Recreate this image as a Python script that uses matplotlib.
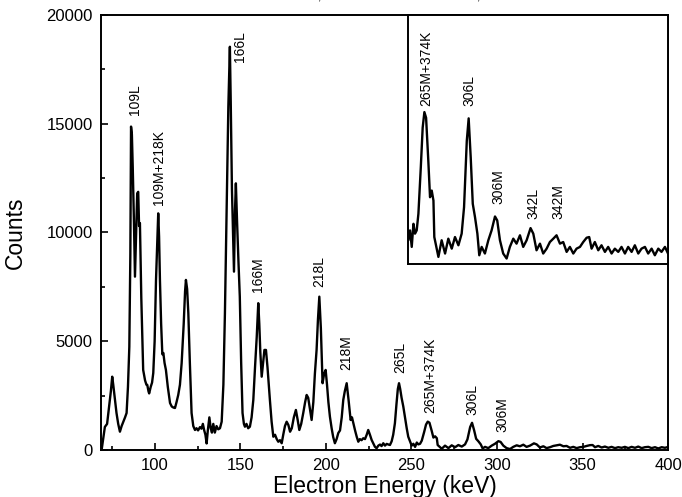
import matplotlib

matplotlib.use("Agg")
import matplotlib.pyplot as plt  # noqa: E402
from matplotlib.ticker import MultipleLocator  # noqa: E402

plt.rcParams.update(
    {
        "font.family": ["Liberation Sans", "DejaVu Sans"],
        "mathtext.fontset": "custom",
        "mathtext.rm": "Liberation Sans",
        "mathtext.it": "Liberation Sans:italic",
        "axes.linewidth": 1.4,
    }
)

# electron energy (keV) and counts
energy = [
    68.8, 69.5, 70.7, 72.0, 73.2, 74.2, 75.0, 75.6, 76.6, 77.5, 78.5, 79.5,
    80.5, 81.5, 82.5, 83.4, 84.2, 85.0, 85.6, 86.0, 86.5, 87.0, 87.7, 88.3,
    89.0, 89.6, 90.2, 90.7, 91.2, 92.0, 93.1, 94.2, 95.0, 95.5, 96.2, 96.6,
    97.5, 98.3, 99.0, 99.8, 100.6, 101.3, 101.9, 102.4, 102.9, 103.6, 104.3,
    104.9, 105.6, 106.4, 107.5, 108.8, 109.8, 110.8, 111.7, 112.6, 113.6,
    114.6, 115.6, 116.8, 117.6, 118.1, 118.8, 119.5, 120.4, 121.4, 122.4,
    123.4, 124.3, 125.2, 126.3, 127.2, 128.0, 128.8, 129.5, 130.2, 130.9,
    131.8, 132.6, 133.3, 134.1, 135.0, 136.0, 137.0, 138.0, 139.0, 140.0,
    140.9, 141.9, 142.9, 143.5, 143.8, 144.3, 145.0, 145.8, 146.2, 146.8,
    147.3, 148.0, 148.8, 149.6, 150.4, 151.2, 152.0, 152.6, 153.5, 154.5,
    155.5, 156.5, 157.5, 158.5, 159.5, 160.4, 161.0, 161.6, 162.4, 163.2,
    164.0, 164.9, 165.8, 167.2, 168.2, 169.2, 170.2, 171.2, 172.1, 173.1,
    174.1, 175.0, 176.0, 177.0, 178.0, 179.0, 180.0, 181.2, 182.4, 183.4,
    184.4, 185.5, 186.7, 187.8, 188.7, 189.6, 190.6, 191.6, 192.6, 193.5,
    194.5, 195.3, 196.1, 197.0, 198.0, 198.9, 199.8, 200.6, 201.4, 202.3,
    203.3, 204.2, 205.2, 206.2, 207.2, 208.2, 209.2, 210.1, 211.0, 212.1,
    213.2, 214.4, 215.2, 216.0, 217.0, 218.0, 218.9, 219.8, 220.8, 221.8,
    222.8, 223.8, 224.7, 225.7, 226.7, 227.7, 228.6, 229.6, 230.6, 231.6,
    232.5, 233.5, 234.5, 235.5, 236.5, 237.4, 238.4, 239.3, 240.3, 241.2,
    242.0, 242.7, 243.4, 244.2, 245.2, 246.2, 247.2, 248.1,
    250.1, 251.1, 252.1, 253.1, 254.0, 255.0, 256.0, 257.4, 258.5, 259.5,
    260.5, 261.8, 262.8, 263.8, 264.8, 265.3, 266.7, 267.7, 269.6, 271.6,
    273.5, 275.5, 277.4, 279.4, 281.3, 282.7, 284.3, 285.4, 286.6, 287.8,
    289.1, 290.5, 291.6, 293.0, 294.9, 296.9, 298.8, 300.8, 302.1, 303.7,
    305.6, 307.6, 309.5, 311.5, 313.4, 315.4, 317.3, 319.3, 321.6, 323.2,
    325.1, 327.1, 329.0, 331.0, 332.9, 334.9, 336.8, 338.8, 340.7, 342.7,
    344.6, 346.6, 348.5, 350.5, 352.4, 354.4, 355.9, 357.3, 359.2, 361.2,
    363.1, 365.1, 367.0, 369.0, 370.9, 372.9, 374.8, 376.8, 378.7, 380.7,
    382.6, 384.6, 386.5, 388.5, 390.4, 392.4, 394.3, 396.3, 398.2, 400.2,
    402.0,
]
counts = [
    0, 400, 1060, 1200, 2000, 2700, 3370, 3000, 2300, 1700, 1200, 840,
    1100, 1300, 1500, 1700, 2900, 4750, 9000, 14870, 14500, 13000, 10500, 7970,
    10000, 11800, 11870, 10300, 10430, 7000, 3680, 3200, 3000, 2990, 2700, 2600,
    2900, 3100, 3540, 5000, 7820, 9500, 10880, 9800, 7820, 5800, 4400,
    4460, 4000, 3680, 2900, 2160, 2000, 1950, 1930, 2200, 2530,
    3000, 4000, 5800, 7300, 7820, 7400, 6290, 4000, 1700, 1100,
    920, 1000, 900, 1050, 980, 1200, 900, 700, 300, 900,
    1500, 1000, 800, 1200, 800, 1100, 950, 1000, 1300, 3000,
    6290, 11000, 15790, 17500, 18540, 16000, 12000, 9500, 8200, 11000,
    12260, 10500, 8700, 7050, 4000, 1700, 1200, 1070, 1200, 1000,
    1070, 1500, 2300, 3800, 5200, 6750, 5800, 4500, 3370, 4000,
    4600, 4600, 3800, 2300, 1300, 610, 700, 500, 380, 450,
    310, 700, 1100, 1300, 1150, 840, 1000, 1500, 1840, 1400,
    920, 1200, 1700, 2200, 2530, 2400, 1900, 1380, 2200, 3500,
    4600, 6000, 7050, 5600, 3070, 3500, 3680, 3000, 2200, 1530,
    1000, 600, 310, 500, 780, 900, 1500, 2300, 2700, 3070,
    2300, 1380, 1500, 1230, 900, 600, 380, 500, 450, 540,
    500, 700, 920, 700, 460, 300, 150, 80, 200, 250,
    180, 310, 200, 280, 250, 230, 400, 700, 1230, 2100,
    2800, 3070, 2800, 2400, 2000, 1500, 1000, 610,
    200, 285, 143, 342, 257, 285, 428, 827, 1170, 1304,
    1255, 884, 571, 628, 542, 228, 128, 57, 200, 86,
    214, 128, 228, 157, 257, 485, 1056, 1250, 913, 514,
    400, 257, 71, 143, 86, 200, 285, 405, 371, 200,
    86, 43, 143, 214, 171, 243, 143, 200, 305, 257,
    114, 171, 86, 128, 185, 214, 243, 171, 185, 100,
    143, 86, 128, 143, 185, 222, 228, 128, 185, 114,
    157, 100, 143, 86, 128, 100, 143, 86, 143, 100,
    157, 86, 128, 143, 86, 128, 71, 128, 100, 143,
    86,
]

main_labels = ["109L", "109M+218K", "166L", "166M", "218L", "218M",
               "265L", "265M+374K", "306L", "306M"]
main_label_x = [88.3, 102.5, 149.7, 160.4, 196.1, 212.1, 243.3, 260.8, 285.9, 302.9]
main_label_y = [15400, 11260, 17840, 7270, 7500, 3680, 3540, 1700, 1610, 830]

inset_labels = ["265M+374K", "306L", "306M", "342L", "342M"]
inset_label_x = [260.8, 286.1, 302.6, 323.0, 337.7]
inset_label_y = [1355, 1355, 516, 387, 387]

fig = plt.figure(figsize=(6.82, 4.97), dpi=100)
ax = fig.add_axes([0.148, 0.0946, 0.8315, 0.8752])
ax.plot(energy, counts, color="black", lw=1.7)
ax.set_xlim(68.4, 400)
ax.set_ylim(0, 20000)
ax.xaxis.set_major_locator(MultipleLocator(50))
ax.xaxis.set_minor_locator(MultipleLocator(25))
ax.yaxis.set_major_locator(MultipleLocator(5000))
ax.yaxis.set_minor_locator(MultipleLocator(2500))
ax.tick_params(which="both", direction="in", width=1.2, labelsize=12)
ax.tick_params(which="major", length=5, pad=6)
ax.tick_params(which="minor", length=3)
ax.set_xlabel("Electron Energy (keV)", fontsize=16.5, labelpad=1)
ax.set_ylabel("Counts", fontsize=16.5, labelpad=14)
for t, x, y in zip(main_labels, main_label_x, main_label_y):
    ax.text(x, y, t, rotation=90, ha="center", va="bottom", fontsize=10)

ins = fig.add_axes([0.5987, 0.4698, 0.3808, 0.5])
ins.plot(energy, counts, color="black", lw=1.7)
ins.set_xlim(250.1, 402)
ins.set_ylim(0, 2140)
ins.set_xticks([])
ins.set_yticks([])
for t, x, y in zip(inset_labels, inset_label_x, inset_label_y):
    ins.text(x, y, t, rotation=90, ha="center", va="bottom", fontsize=10)

# heading that sits mostly above the page edge, only its lowest strokes show
fig.text(172 / 682, 1.007, "Peak fitting", ha="right", va="baseline", fontsize=12)
fig.text(318 / 682, 1.003, r"$\alpha_{L,M}$", ha="center", va="baseline", fontsize=12)
fig.text(368 / 682, 1.003, r"$\alpha_{L}$", ha="center", va="baseline", fontsize=12)
fig.text(474 / 682, 1.003, r"$\alpha_{K,L}$", ha="center", va="baseline", fontsize=12)

fig.savefig("out.png", dpi=100)
